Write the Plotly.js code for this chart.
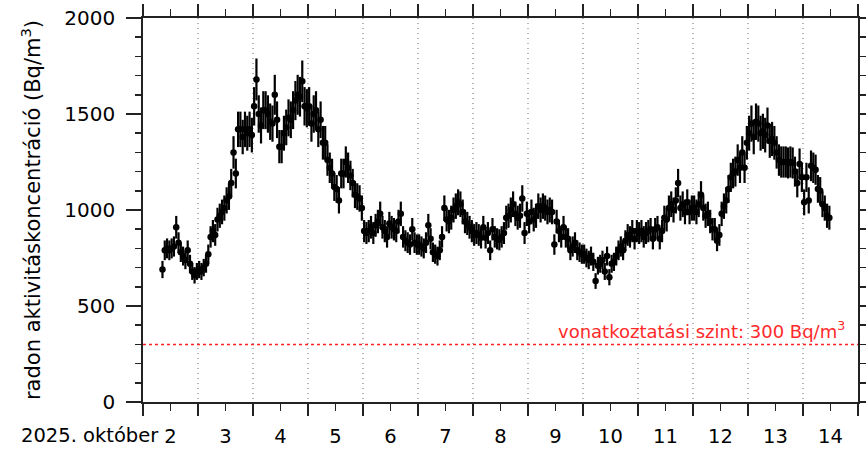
<!DOCTYPE html>
<html>
<head>
<meta charset="utf-8">
<script src="https://cdn.plot.ly/plotly-3.0.1.min.js"></script>
<style>html,body{margin:0;padding:0;background:#fff;}#chart{width:866px;height:449px;}</style>
</head>
<body>
<div id="chart"></div>
<script>
// Hourly radon activity concentration (Bq/m3), measured at HH:30
const oct02 = [690, 790, 800, 790, 800, 810, 910, 830, 780, 760, 740, 790, 720, 680, 660, 680]; // from 08:30
const oct03 = [690, 680, 700, 720, 770, 860, 890, 870, 950, 970, 990, 1010, 1050, 1070, 1140, 1300, 1190, 1420, 1420, 1380, 1420, 1400, 1420, 1390];
const oct04 = [1540, 1680, 1500, 1440, 1520, 1520, 1500, 1460, 1450, 1600, 1470, 1330, 1330, 1400, 1430, 1480, 1470, 1520, 1570, 1600, 1590, 1670, 1540, 1530];
const oct05 = [1540, 1450, 1500, 1520, 1420, 1470, 1350, 1350, 1260, 1220, 1190, 1120, 1110, 1050, 1190, 1190, 1250, 1220, 1180, 1140, 1080, 1070, 1060, 1010];
const oct06 = [890, 880, 890, 910, 880, 920, 940, 980, 910, 890, 860, 930, 910, 900, 890, 940, 980, 860, 840, 830, 820, 900, 830, 820];
const oct07 = [820, 810, 800, 830, 920, 850, 780, 770, 760, 790, 860, 1010, 950, 940, 960, 1000, 1020, 1040, 1030, 990, 940, 930, 910, 890];
const oct08 = [870, 880, 870, 855, 910, 855, 880, 790, 900, 860, 850, 845, 860, 880, 960, 970, 1000, 1030, 980, 960, 970, 1060, 880, 980];
const oct09 = [940, 990, 950, 970, 1020, 1000, 1020, 1010, 990, 1000, 990, 820, 940, 890, 860, 910, 860, 850, 790, 810, 830, 790, 780, 770];
const oct10 = [770, 750, 740, 760, 730, 630, 710, 720, 740, 680, 760, 650, 720, 730, 760, 790, 810, 790, 840, 870, 860, 890, 850, 890];
const oct11 = [880, 890, 860, 880, 890, 900, 850, 900, 910, 850, 890, 960, 950, 1010, 1030, 1000, 1050, 1140, 1010, 1030, 990, 1040, 990, 1010];
const oct12 = [1010, 990, 1030, 1080, 1010, 970, 980, 940, 900, 900, 840, 870, 980, 1020, 1050, 1110, 1170, 1190, 1200, 1260, 1220, 1300, 1220, 1350];
const oct13 = [1400, 1450, 1380, 1460, 1450, 1400, 1410, 1390, 1440, 1360, 1370, 1350, 1300, 1260, 1250, 1250, 1250, 1245, 1250, 1245, 1200, 1140, 1240, 1170];
const oct14 = [1040, 1170, 1050, 1230, 1220, 1210, 1110, 1100, 1030, 1010, 970, 960];

const days = ['02','03','04','05','06','07','08','09','10','11','12','13','14'];
const dayData = [oct02, oct03, oct04, oct05, oct06, oct07, oct08, oct09, oct10, oct11, oct12, oct13, oct14];
const firstHour = [8, 0, 0, 0, 0, 0, 0, 0, 0, 0, 0, 0, 0];

const tickLabels = ['2','3','4','5','6','7','8','9','10','11','12','13','14'];
const monthLabel = '2025. október';
const referenceLevel = 300;
const referenceText = 'vonatkoztatási szint: 300 Bq/m<sup>3</sup>';
const yTicks = [0, 500, 1000, 1500, 2000];

const xs = [], ys = [];
dayData.forEach((arr, d) => {
  arr.forEach((v, i) => {
    const h = firstHour[d] + i;
    xs.push('2025-10-' + days[d] + ' ' + String(h).padStart(2, '0') + ':30');
    ys.push(v);
  });
});

const noonTicks = days.map(d => '2025-10-' + d + ' 12:00');
const midnightTicks = days.map(d => '2025-10-' + d + ' 00:00').concat(['2025-10-15 00:00']);

const FONT = 'DejaVu Sans, Verdana, sans-serif';

const trace = {
  type: 'scatter',
  mode: 'markers',
  x: xs,
  y: ys,
  marker: {color: '#000', size: 6.5},
  error_y: {type: 'percent', value: 6.5, color: '#000', thickness: 2.2, width: 0},
  hoverinfo: 'x+y',
  showlegend: false
};

const layout = {
  width: 866,
  height: 449,
  margin: {l: 143, r: 8, t: 18, b: 47},
  paper_bgcolor: '#fff',
  plot_bgcolor: '#fff',
  font: {family: FONT, size: 20, color: '#000'},
  xaxis: {
    type: 'date',
    range: ['2025-10-02 00:00', '2025-10-15 00:00'],
    tickmode: 'array',
    tickvals: noonTicks,
    ticktext: tickLabels,
    ticks: 'outside',
    ticklen: 7,
    tickwidth: 1.6,
    tickcolor: '#222',
    ticklabelstandoff: 9,
    showline: true,
    linecolor: '#222',
    linewidth: 1.8,
    mirror: 'ticks',
    showgrid: false,
    zeroline: false,
    tickfont: {family: FONT, size: 19.5, color: '#000'},
    minor: {
      tickmode: 'array',
      tickvals: midnightTicks,
      ticks: 'outside',
      ticklen: 12,
      tickwidth: 1.6,
      tickcolor: '#222',
      showgrid: true,
      gridcolor: '#b4b4b4',
      griddash: '1px,4px',
      gridwidth: 1.2
    }
  },
  yaxis: {
    range: [0, 2000],
    tickmode: 'array',
    tickvals: yTicks,
    ticks: 'outside',
    ticklen: 15,
    tickwidth: 1.6,
    tickcolor: '#222',
    ticklabelstandoff: 7,
    showline: true,
    linecolor: '#222',
    linewidth: 1.8,
    mirror: 'ticks',
    showgrid: false,
    zeroline: false,
    tickfont: {family: FONT, size: 20, color: '#000'},
    title: {text: 'radon aktivitáskoncentráció (Bq/m<sup>3</sup>)', font: {family: FONT, size: 21, color: '#000'}, standoff: 18},
    minor: {dtick: 100, ticks: 'outside', ticklen: 6, tickwidth: 1.6, tickcolor: '#222', showgrid: false}
  },
  shapes: [{
    type: 'line', xref: 'paper', x0: 0, x1: 1, yref: 'y', y0: referenceLevel, y1: referenceLevel,
    line: {color: '#ff2020', width: 1.5, dash: 'dot'}, layer: 'above'
  }],
  annotations: [
    {
      xref: 'paper', x: 0.985, xanchor: 'right', yref: 'y', y: referenceLevel, yanchor: 'bottom', yshift: 0,
      text: referenceText, showarrow: false,
      font: {family: FONT, size: 18, color: '#ff2a2a'}
    },
    {
      xref: 'x', x: noonTicks[0], xanchor: 'right', xshift: -10,
      yref: 'paper', y: 0, yanchor: 'top', yshift: -20,
      text: monthLabel, showarrow: false,
      font: {family: FONT, size: 19.5, color: '#000'}
    }
  ]
};

Plotly.newPlot('chart', [trace], layout, {displayModeBar: false, staticPlot: true});
</script>
</body>
</html>
